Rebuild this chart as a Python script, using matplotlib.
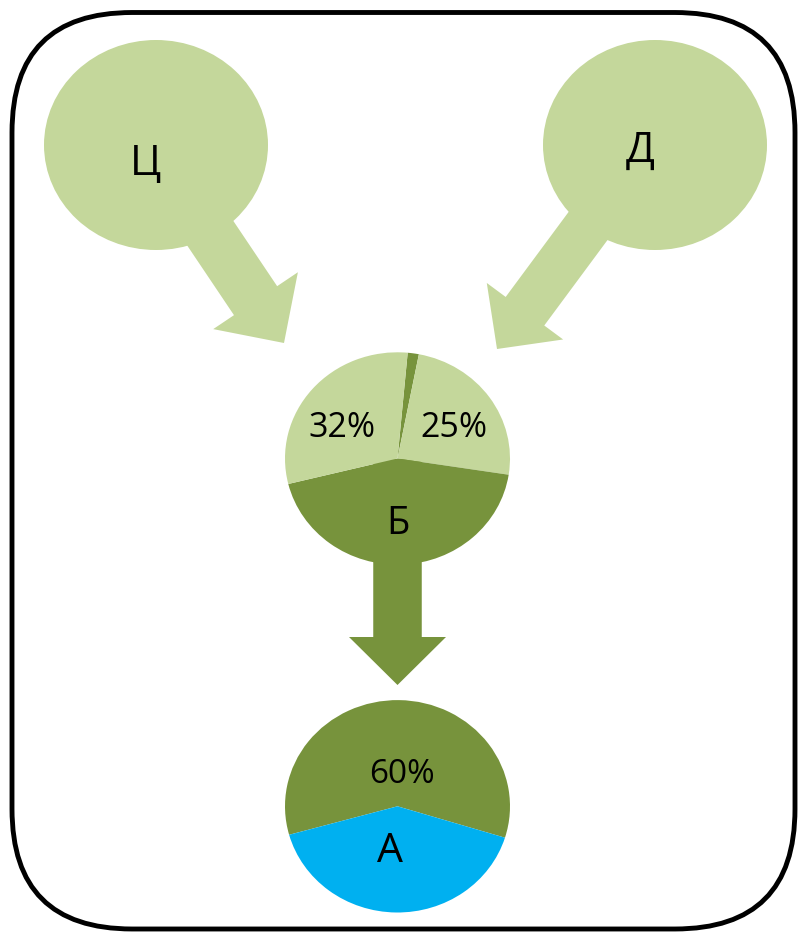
import matplotlib.pyplot as plt
from matplotlib.patches import Ellipse, FancyArrow, FancyBboxPatch

plt.rcParams['font.family'] = ['Open Sans', 'DejaVu Sans']

# colours
LIGHT = '#C4D79B'
DARK = '#77933C'
BLUE = '#00B0F0'

# data
top_nodes = ['Ц', 'Д']
pie_b_values = [1.6, 24.4, 43.7, 30.3]
pie_b_colors = [DARK, LIGHT, DARK, LIGHT]
pie_b_labels = ['25%', 'Б', '32%']
pie_a_values = [59.1, 40.9]
pie_a_colors = [DARK, BLUE]
pie_a_labels = ['60%', 'А']

# layout, in pixels (origin top-left)
W, H = 798, 933
node_centers = [(156, 145), (655, 145)]
node_text_pos = [(146, 175), (640.5, 161.7)]
pie_b_center = (397.5, 458.5)
pie_a_center = (397.5, 806.3)
pie_rx, pie_ry = 112.5, 106.2
pie_b_text_pos = [(454, 437.3), (397.5, 534), (342.5, 437.3)]
pie_b_text_size = [24.5, 27.5, 24.5]
pie_a_text_pos = [(402, 782.7), (390, 861.7)]
pie_a_text_size = [24, 29.5]

fig = plt.figure(figsize=(W / 100, H / 100), dpi=100)
ax = fig.add_axes([0, 0, 1, 1])
ax.set_xlim(0, W)
ax.set_ylim(H, 0)
ax.axis('off')

# rounded frame
ax.add_patch(FancyBboxPatch((12, 12.5), 783, 916.5,
                            boxstyle='round,pad=0,rounding_size=120',
                            fc='white', ec='black', lw=3.5))

# arrows: start, tip, shaft width, head width, head length, colour
arrows = [
    ((151, 145), (284, 343), 52, 102, 51, LIGHT),
    ((648, 145), (497, 349), 48, 95, 47, LIGHT),
    ((397.5, 459), (397.5, 685), 48.5, 97, 48, DARK),
]
for (x0, y0), (x1, y1), w, hw, hl, c in arrows:
    ax.add_patch(FancyArrow(x0, y0, x1 - x0, y1 - y0, width=w,
                            head_width=hw, head_length=hl,
                            length_includes_head=True, color=c, lw=0))

# top source nodes
for name, (cx, cy), (tx, ty) in zip(top_nodes, node_centers, node_text_pos):
    ax.add_patch(Ellipse((cx, cy), 224, 210, color=LIGHT, lw=0))
    ax.text(tx, ty, name, ha='center', va='baseline', fontsize=30.5)


def pie_axes(cx, cy):
    return fig.add_axes([(cx - 1.25 * pie_rx) / W, (H - cy - 1.25 * pie_ry) / H,
                         2.5 * pie_rx / W, 2.5 * pie_ry / H])


axb = pie_axes(*pie_b_center)
axb.pie(pie_b_values, colors=pie_b_colors, startangle=84.8, counterclock=False,
        wedgeprops=dict(linewidth=0))
axa = pie_axes(*pie_a_center)
axa.pie(pie_a_values, colors=pie_a_colors, startangle=-17.2,
        wedgeprops=dict(linewidth=0))

for a in (axb, axa):
    a.set_aspect('auto')
    a.set_xlim(-1.25, 1.25)
    a.set_ylim(-1.25, 1.25)
    a.axis('off')

for lab, (tx, ty), fs in zip(pie_b_labels, pie_b_text_pos, pie_b_text_size):
    axb.text(tx, ty, lab, transform=ax.transData, ha='center', va='baseline', fontsize=fs)
for lab, (tx, ty), fs in zip(pie_a_labels, pie_a_text_pos, pie_a_text_size):
    axa.text(tx, ty, lab, transform=ax.transData, ha='center', va='baseline', fontsize=fs)

fig.savefig('out.png', dpi=100)
